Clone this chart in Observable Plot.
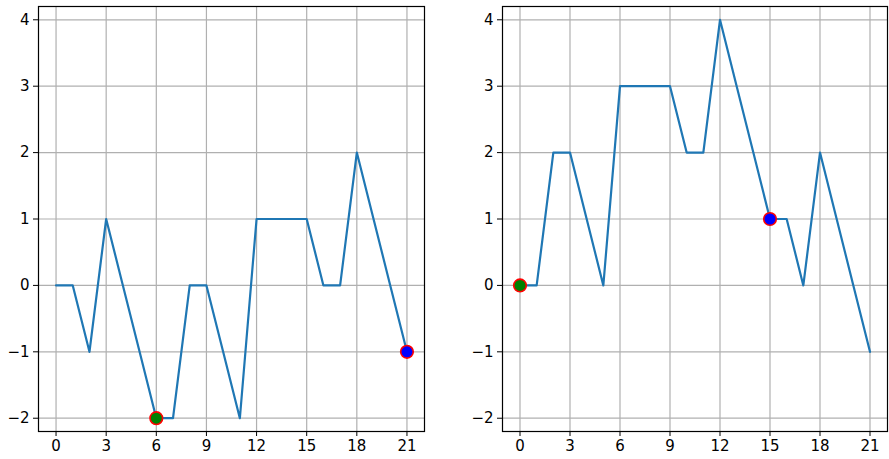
<!DOCTYPE html>
<html>
<head>
<meta charset="utf-8">
<script src="https://cdn.jsdelivr.net/npm/d3@7"></script>
<script src="https://cdn.jsdelivr.net/npm/@observablehq/plot@0.6"></script>
<style>
  html, body { margin: 0; padding: 0; background: #fff; }
  #wrap { position: relative; width: 889px; height: 459px; }
  #wrap > svg { position: absolute; top: 0; }
</style>
</head>
<body>
<div id="wrap"></div>
<script>
const steps = d3.range(0, 22);
const walkLeft  = [0, 0, -1, 1, 0, -1, -2, -2, 0, 0, -1, -2, 1, 1, 1, 1, 0, 0, 2, 1, 0, -1];
const walkRight = [0, 0, 2, 2, 1, 0, 3, 3, 3, 3, 2, 2, 4, 3, 2, 1, 1, 0, 2, 1, 0, -1];
const greenLeft = 6, blueLeft = 21;
const greenRight = 0, blueRight = 15;
const xTicks = [0, 3, 6, 9, 12, 15, 18, 21];
const yTicks = [-2, -1, 0, 1, 2, 3, 4];

const fmt = d => d < 0 ? "\u2212" + Math.abs(d) : String(d);

function panel(values, gi, bi, left, width, marginLeft, marginRight) {
  const data = steps.map((s, i) => ({x: s, y: values[i]}));
  const svg = Plot.plot({
    width, height: 459,
    marginLeft, marginRight, marginTop: 6, marginBottom: 28,
    style: {fontFamily: "DejaVu Sans", fontSize: "15px", color: "#000", background: "#fff"},
    x: {domain: [-1.05, 22.05], ticks: xTicks, tickFormat: fmt, label: null, tickSize: 5, tickPadding: 4},
    y: {domain: [-2.2, 4.2], ticks: yTicks, tickFormat: fmt, label: null, tickSize: 5, tickPadding: 4},
    marks: [
      Plot.gridX(xTicks, {stroke: "#b0b0b0", strokeOpacity: 1, strokeWidth: 1.2}),
      Plot.gridY(yTicks, {stroke: "#b0b0b0", strokeOpacity: 1, strokeWidth: 1.2}),
      Plot.line(data, {x: "x", y: "y", stroke: "#1f77b4", strokeWidth: 2.2}),
      Plot.dot([data[gi]], {x: "x", y: "y", r: 6.3, fill: "green", stroke: "red", strokeWidth: 1.6}),
      Plot.dot([data[bi]], {x: "x", y: "y", r: 6.3, fill: "blue", stroke: "red", strokeWidth: 1.6}),
      Plot.frame({stroke: "#000", strokeWidth: 1.2}),
      Plot.axisX({ticks: xTicks, tickFormat: fmt, tickSize: 5, tickPadding: 4}),
      Plot.axisY({ticks: yTicks, tickFormat: fmt, tickSize: 5, tickPadding: 4})
    ]
  });
  svg.style.left = left + "px";
  document.getElementById("wrap").appendChild(svg);
}

panel(walkLeft, greenLeft, blueLeft, 0, 445, 38, 21);
panel(walkRight, greenRight, blueRight, 445, 444, 57, 2);
</script>
</body>
</html>
